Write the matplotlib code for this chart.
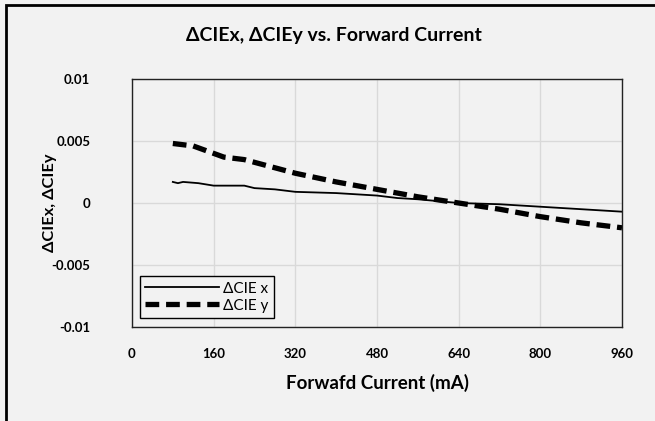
import matplotlib.pyplot as plt
from matplotlib.patches import Rectangle

# data
current_x = [80, 90, 100, 130, 160, 220, 240, 280, 320, 400, 480, 520, 560, 640, 720, 800, 880, 960]
d_cie_x = [0.0017, 0.0016, 0.0017, 0.0016, 0.0014, 0.0014, 0.0012, 0.0011, 0.0009, 0.0008,
           0.0006, 0.0004, 0.0003, 0.0, -0.0001, -0.0003, -0.0005, -0.0007]
current_y = [80, 120, 160, 180, 220, 320, 400, 480, 560, 640, 720, 800, 880, 960]
d_cie_y = [0.0048, 0.0046, 0.0040, 0.0037, 0.0035, 0.0024, 0.0017, 0.0011, 0.0005, 0.0,
           -0.0005, -0.0011, -0.0016, -0.0020]
x_ticks = [0, 160, 320, 480, 640, 800, 960]
y_ticks = [-0.01, -0.005, 0, 0.005, 0.01]
y_labels = ['-0.01', '-0.005', '0', '0.005', '0.01']

plt.rcParams['font.family'] = ['Lato', 'DejaVu Sans']

W, H = 655, 421
fig = plt.figure(figsize=(W / 100, H / 100), dpi=100, facecolor='#f2f2f2')
# plot area in pixels: left 132, right 622, top 79, bottom 327
ax = fig.add_axes([132 / W, 1 - 327 / H, (622 - 132) / W, (327 - 79) / H])
ax.set_facecolor('#f2f2f2')

# outer frame of the picture
fig.patches.append(Rectangle((6 / W, -0.05), 1.2, 1 - 5 / H + 0.05, transform=fig.transFigure,
                             fill=False, edgecolor='black', linewidth=2))

ax.plot(current_x, d_cie_x, color='black', linewidth=1.3, label='ΔCIE x')
ax.plot(current_y, d_cie_y, color='black', linewidth=3.8, linestyle=(0, (2.6, 1.3)),
        label='ΔCIE y')

ax.set_xlim(0, 960)
ax.set_ylim(-0.01, 0.01)
ax.set_xticks(x_ticks)
ax.set_yticks(y_ticks)
ax.set_yticklabels(y_labels)
ax.grid(True, color='#d9d9d9', linewidth=1)
ax.set_axisbelow(True)
ax.tick_params(axis='y', length=0, labelsize=9.5, pad=30)
ax.tick_params(axis='x', length=0, labelsize=9.5, pad=15)
for lab in ax.get_xticklabels() + ax.get_yticklabels():
    lab.set_fontweight('bold')
for s in ax.spines.values():
    s.set_color('#222222')
    s.set_linewidth(1)

ax.set_xlabel('Forwafd Current (mA)', fontsize=13.5, fontweight='bold', va='center')
ax.set_ylabel('ΔCIEx, ΔCIEy', fontsize=11.8, fontweight='bold', va='center')
ax.xaxis.set_label_coords(0.5, (327 - 383) / 248)
ax.yaxis.set_label_coords((50 - 132) / 490, 0.5)
fig.text(334 / W, 1 - 36 / H, 'ΔCIEx, ΔCIEy vs. Forward Current', ha='center', va='center',
         fontsize=14, fontweight='bold')

leg = ax.legend(loc='lower left', bbox_to_anchor=(0.016, 0.036), fontsize=11, fancybox=False,
                framealpha=1, facecolor='#f2f2f2', edgecolor='black', handlelength=4.8,
                borderpad=0.35, labelspacing=0.2, handletextpad=0.3, borderaxespad=0)
leg.get_frame().set_linewidth(1)

fig.savefig('out.png', dpi=100, facecolor=fig.get_facecolor())
